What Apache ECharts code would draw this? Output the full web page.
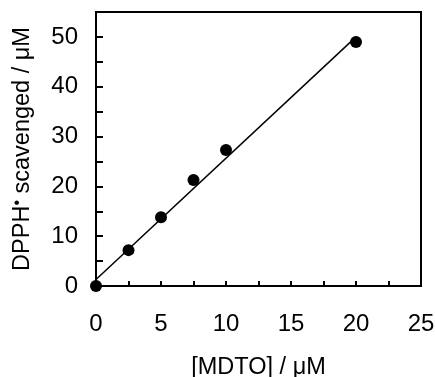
<!DOCTYPE html>
<html>
<head>
<meta charset="utf-8">
<script src="https://cdn.jsdelivr.net/npm/echarts@6/dist/echarts.min.js"></script>
<style>
  html, body { margin: 0; padding: 0; background: #fff; }
  #chart { width: 435px; height: 377px; }
</style>
</head>
<body>
<div id="chart"></div>
<script>
// measured points: [MDTO] (uM) vs DPPH scavenged (uM)
const mdto = [0, 2.5, 5, 7.5, 10, 20];
const scavenged = [0, 7.2, 13.8, 21.3, 27.3, 49.0];
// fitted line end points
const fitX = [0, 20];
const fitY = [1.3, 50.0];

const FONT = "Liberation Sans";

const chart = echarts.init(document.getElementById("chart"), null, { renderer: "canvas" });
chart.setOption({
  animation: false,
  textStyle: { fontFamily: FONT, color: "#000" },
  grid: {
    left: 96, right: 14, top: 12, bottom: 91,
    outerBoundsMode: "none",
    show: true, borderColor: "#000", borderWidth: 2
  },
  xAxis: {
    type: "value",
    min: 0,
    max: 25,
    interval: 5,
    name: "[MDTO] / \u03bcM",
    nameLocation: "middle",
    nameGap: 70,
    nameTextStyle: { fontSize: 23.5, color: "#000", fontFamily: FONT },
    axisLine: { lineStyle: { color: "#000", width: 2 } },
    axisTick: { inside: true, length: 5, lineStyle: { color: "#000", width: 2 } },
    minorTick: { show: true, splitNumber: 2, length: 5, lineStyle: { color: "#000", width: 2 } },
    splitLine: { show: false },
    axisLabel: { fontSize: 24, color: "#000", margin: 26, fontFamily: FONT }
  },
  yAxis: {
    type: "value",
    min: 0,
    max: 55,
    interval: 5,
    name: "{a|DPPH}{s|\u2022}{a| scavenged / \u03bcM}",
    nameLocation: "middle",
    nameGap: 60,
    nameTextStyle: {
      rich: {
        a: { fontSize: 23.5, color: "#000", fontFamily: FONT },
        s: { fontSize: 16, color: "#000", fontFamily: FONT, verticalAlign: "top", padding: [0, 0, 10, 0] }
      }
    },
    axisLine: { lineStyle: { color: "#000", width: 2 } },
    axisTick: { inside: true, length: 7, lineStyle: { color: "#000", width: 2 } },
    splitLine: { show: false },
    axisLabel: {
      fontSize: 24,
      color: "#000",
      margin: 18,
      fontFamily: FONT,
      formatter: (v) => (v % 10 === 0 ? String(v) : "")
    }
  },
  series: [
    {
      type: "line",
      data: fitX.map((x, i) => [x, fitY[i]]),
      showSymbol: false,
      symbol: "none",
      lineStyle: { color: "#000", width: 1.5 },
      z: 2
    },
    {
      type: "scatter",
      data: mdto.map((x, i) => [x, scavenged[i]]),
      symbol: "circle",
      symbolSize: 12,
      itemStyle: { color: "#000", opacity: 1 },
      z: 3
    }
  ]
});
</script>
</body>
</html>
